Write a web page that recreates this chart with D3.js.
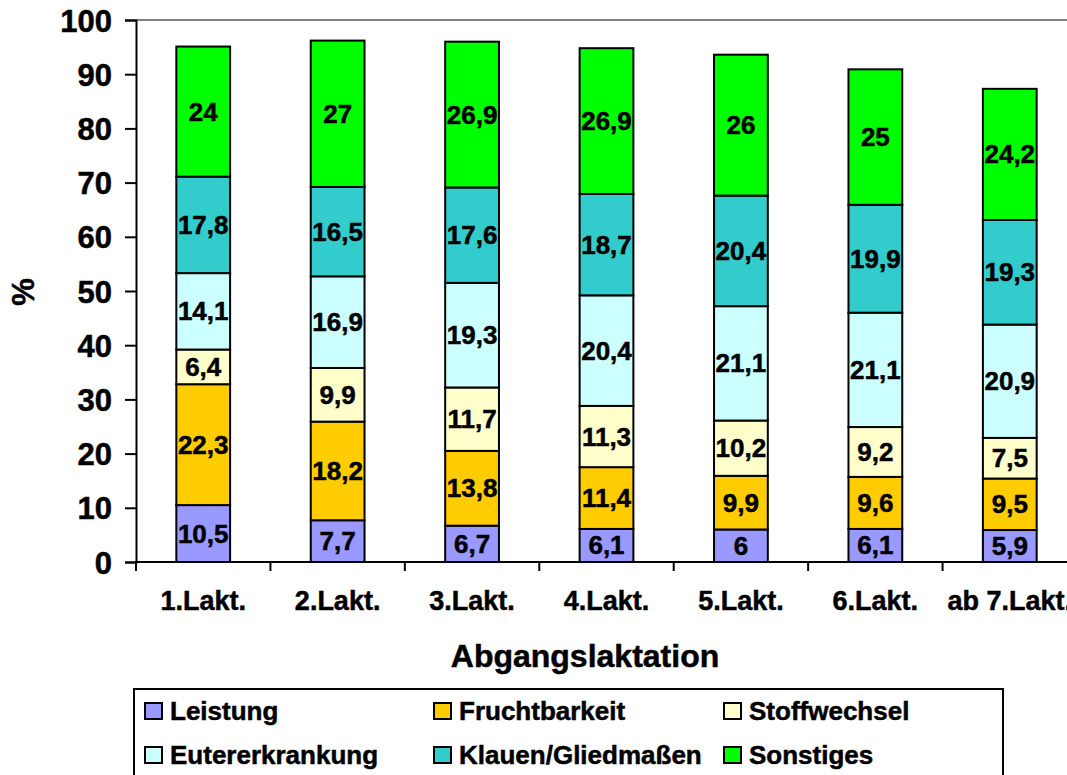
<!DOCTYPE html>
<html>
<head>
<meta charset="utf-8">
<script src="https://cdn.jsdelivr.net/npm/d3@7/dist/d3.min.js"></script>
<style>
  html, body { margin: 0; padding: 0; background: #fff; }
  svg { display: block; }
  text { font-family: "Liberation Sans", Arial, sans-serif; font-weight: bold; fill: #000; stroke: #000; stroke-width: 0.5px; }
</style>
</head>
<body>
<svg id="chart" width="1067" height="775"></svg>
<script>
const categories = ["1.Lakt.", "2.Lakt.", "3.Lakt.", "4.Lakt.", "5.Lakt.", "6.Lakt.", "ab 7.Lakt."];
const seriesNames = ["Leistung", "Fruchtbarkeit", "Stoffwechsel", "Eutererkrankung", "Klauen/Gliedmaßen", "Sonstiges"];
const leistung        = [10.5, 7.7, 6.7, 6.1, 6, 6.1, 5.9];
const fruchtbarkeit   = [22.3, 18.2, 13.8, 11.4, 9.9, 9.6, 9.5];
const stoffwechsel    = [6.4, 9.9, 11.7, 11.3, 10.2, 9.2, 7.5];
const eutererkrankung = [14.1, 16.9, 19.3, 20.4, 21.1, 21.1, 20.9];
const klauen          = [17.8, 16.5, 17.6, 18.7, 20.4, 19.9, 19.3];
const sonstiges       = [24, 27, 26.9, 26.9, 26, 25, 24.2];
const yTicks = [0, 10, 20, 30, 40, 50, 60, 70, 80, 90, 100];
const colors = ["#9999FF", "#FFCC00", "#FFFFCC", "#CCFFFF", "#33CCCC", "#00FF00"];

const seriesValues = [leistung, fruchtbarkeit, stoffwechsel, eutererkrankung, klauen, sonstiges];
const table = categories.map((c, i) => {
  const row = { cat: c };
  seriesNames.forEach((s, j) => row[s] = seriesValues[j][i]);
  return row;
});
const stacked = d3.stack().keys(seriesNames)(table);

const svg = d3.select("#chart");
const plotL = 136, plotR = 1077, plotT = 20, plotB = 562;

const x = d3.scaleBand().domain(categories).range([plotL, plotR]).paddingInner(0.6).paddingOuter(0.3);
const y = d3.scaleLinear().domain([0, 100]).range([plotB, plotT]);
const color = d3.scaleOrdinal().domain(seriesNames).range(colors);

// top border of plot area
svg.append("line").attr("x1", plotL).attr("x2", 1067).attr("y1", y(100)).attr("y2", y(100))
  .attr("stroke", "#808080").attr("stroke-width", 2);

// bars
const layers = svg.append("g").selectAll("g").data(stacked).join("g")
  .attr("fill", d => color(d.key));
layers.selectAll("rect").data(d => d).join("rect")
  .attr("x", d => x(d.data.cat))
  .attr("width", x.bandwidth())
  .attr("y", d => y(d[1]))
  .attr("height", d => y(d[0]) - y(d[1]))
  .attr("stroke", "#000").attr("stroke-width", 2);

// labels
const lab = svg.append("g").selectAll("g").data(stacked).join("g");
lab.selectAll("text").data(d => d).join("text")
  .attr("x", d => x(d.data.cat) + x.bandwidth() / 2)
  .attr("y", d => (y(d[0]) + y(d[1])) / 2)
  .attr("text-anchor", "middle").attr("dominant-baseline", "central")
  .attr("font-size", 26)
  .text(d => String(+(d[1] - d[0]).toFixed(1)).replace(".", ","));

// y axis
const yAxis = d3.axisLeft(y).tickValues(yTicks).tickSize(11).tickPadding(13);
const gy = svg.append("g").attr("transform", `translate(${plotL},0)`).call(yAxis);
gy.select(".domain").attr("stroke", "#000").attr("stroke-width", 2);
gy.selectAll(".tick line").attr("stroke", "#000").attr("stroke-width", 2);
gy.selectAll(".tick text").attr("font-size", 31).attr("dy", "0.36em");

// x axis
svg.append("line").attr("x1", plotL - 1).attr("x2", 1067).attr("y1", plotB).attr("y2", plotB)
  .attr("stroke", "#000").attr("stroke-width", 2);
svg.append("g").selectAll("line").data(categories).join("line")
  .attr("x1", c => x(c) + x.bandwidth() / 2 - x.step() / 2)
  .attr("x2", c => x(c) + x.bandwidth() / 2 - x.step() / 2)
  .attr("y1", plotB).attr("y2", plotB + 9)
  .attr("stroke", "#000").attr("stroke-width", 2);
svg.append("g").selectAll("text").data(categories).join("text")
  .attr("x", c => x(c) + x.bandwidth() / 2)
  .attr("y", 610)
  .attr("text-anchor", "middle")
  .attr("font-size", 27)
  .text(c => c);

// axis titles
svg.append("text").attr("x", 585).attr("y", 667).attr("text-anchor", "middle")
  .attr("font-size", 32).text("Abgangslaktation");
svg.append("text").attr("transform", "translate(23,292) rotate(-90)")
  .attr("text-anchor", "middle").attr("dominant-baseline", "central")
  .attr("font-size", 31).text("%");

// legend
svg.append("rect").attr("x", 134).attr("y", 689).attr("width", 869).attr("height", 120)
  .attr("fill", "#fff").attr("stroke", "#000").attr("stroke-width", 2);
const colX = [145, 434, 724];
const rowY = [711, 755];
const lg = svg.append("g").selectAll("g").data(seriesNames).join("g")
  .attr("transform", (d, i) => `translate(${colX[i % 3]},${rowY[Math.floor(i / 3)]})`);
lg.append("rect").attr("x", 0).attr("y", -8).attr("width", 17).attr("height", 16)
  .attr("fill", d => color(d)).attr("stroke", "#000").attr("stroke-width", 2);
lg.append("text").attr("x", 25).attr("y", 0).attr("dominant-baseline", "central")
  .attr("font-size", 26).text(d => d);
</script>
</body>
</html>
